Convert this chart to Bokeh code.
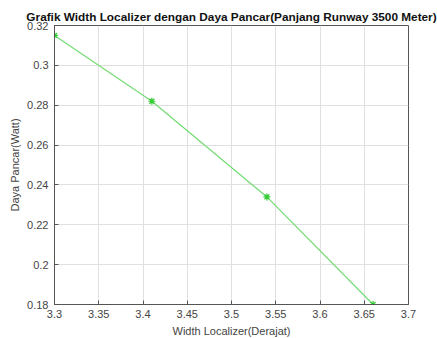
from bokeh.plotting import figure
from bokeh.embed import file_html
from bokeh.resources import INLINE
from bokeh.models import Range1d, FixedTicker

width_localizer = [3.30, 3.41, 3.54, 3.66]
daya_pancar = [0.315, 0.282, 0.234, 0.180]
x_ticks = [3.3, 3.35, 3.4, 3.45, 3.5, 3.55, 3.6, 3.65, 3.7]
y_ticks = [0.18, 0.2, 0.22, 0.24, 0.26, 0.28, 0.3, 0.32]

p = figure(width=437, height=338, frame_width=354, frame_height=279,
           output_backend="svg", toolbar_location=None,
           x_range=Range1d(3.3, 3.7), y_range=Range1d(0.18, 0.32),
           min_border_left=54, min_border_right=29, min_border_top=25, min_border_bottom=34)

p.title.text = "Grafik Width Localizer dengan Daya Pancar(Panjang Runway 3500 Meter)"
p.title.align = "center"
p.title.text_font = "Liberation Sans"
p.title.text_font_size = "11.8px"
p.title.text_font_style = "bold"
p.title.text_color = "#111111"
p.title.standoff = 3
p.title.offset = 0

p.line(width_localizer, daya_pancar, line_color="#77dd77", line_width=1.3)
p.scatter(width_localizer, daya_pancar, marker="asterisk", size=7, line_color="#33cc33", line_width=1.2)

p.xaxis.ticker = FixedTicker(ticks=x_ticks)
p.yaxis.ticker = FixedTicker(ticks=y_ticks)
p.xaxis.major_label_overrides = {t: ("%g" % t) for t in x_ticks}
p.yaxis.major_label_overrides = {t: ("%g" % t) for t in y_ticks}
p.xaxis.axis_label = "Width Localizer(Derajat)"
p.yaxis.axis_label = "Daya Pancar(Watt)"
for ax in (p.xaxis[0], p.yaxis[0]):
    ax.axis_label_text_font = "Liberation Sans"
    ax.axis_label_text_font_size = "11px"
    ax.axis_label_text_font_style = "normal"
    ax.axis_label_text_color = "#444444"
    ax.major_label_text_font = "Liberation Sans"
    ax.major_label_text_font_size = "11px"
    ax.major_label_text_color = "#444444"
    ax.major_tick_in = 4
    ax.major_tick_out = 0
    ax.minor_tick_in = 0
    ax.minor_tick_out = 0
    ax.axis_line_color = "#555555"
    ax.major_tick_line_color = "#555555"
p.xaxis.major_label_standoff = 5
p.xaxis.axis_label_standoff = 4
p.yaxis.major_label_standoff = 6
p.yaxis.axis_label_standoff = 3

p.xgrid.grid_line_color = "#e0e0e0"
p.ygrid.grid_line_color = "#e0e0e0"
p.outline_line_color = "#555555"
p.outline_line_alpha = 1.0

open("out.html", "w").write(file_html(p, INLINE))
